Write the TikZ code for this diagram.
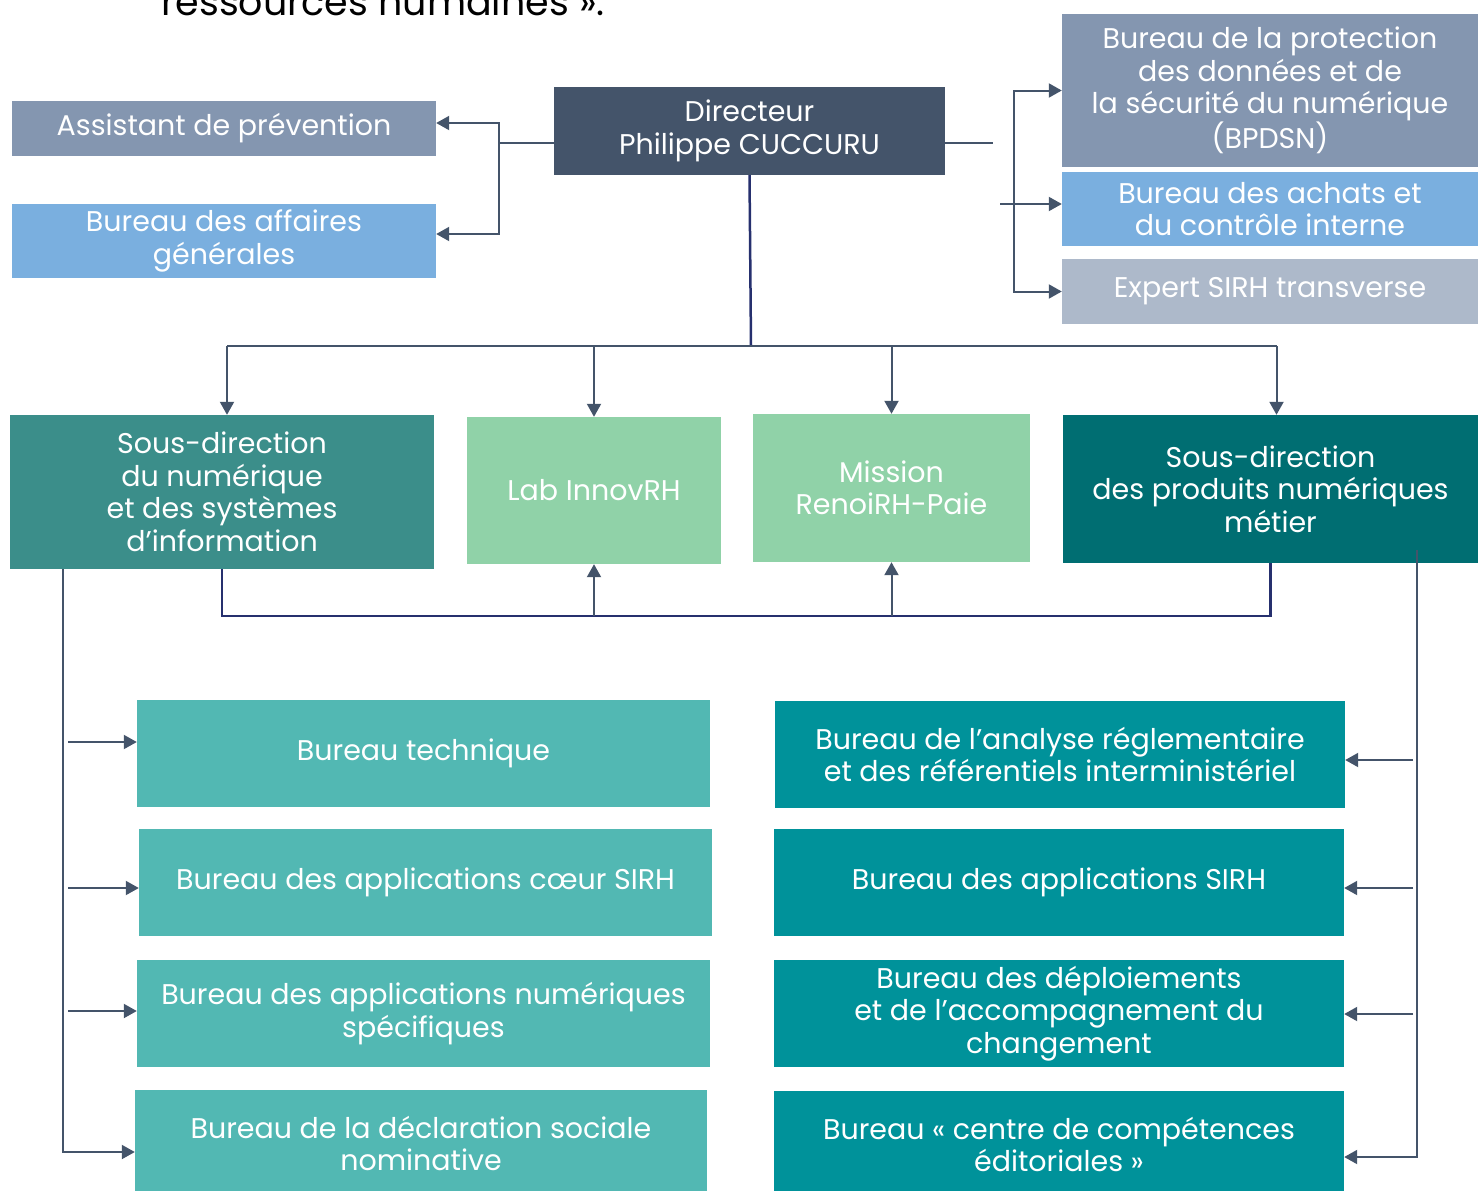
\documentclass[tikz,border=0pt]{standalone}
\usepackage{fontspec}
\setmainfont{Poppins}
\usetikzlibrary{arrows.meta}
\definecolor{slateblue}{RGB}{68,84,106}
\definecolor{greyblue}{RGB}{132,150,176}
\definecolor{skyblue}{RGB}{122,175,223}
\definecolor{paleblue}{RGB}{173,185,202}
\definecolor{tealdark}{RGB}{59,142,138}
\definecolor{mint}{RGB}{144,210,168}
\definecolor{petrol}{RGB}{0,110,114}
\definecolor{aqua}{RGB}{82,184,179}
\definecolor{cyanteal}{RGB}{0,146,154}
\definecolor{navyline}{RGB}{38,48,110}
\newcommand{\boxfont}{\fontsize{28.5}{32.5}\selectfont}
\tikzset{
  box/.style={fill=#1, text=white, align=center, inner sep=0pt, font=\boxfont},
  link/.style={draw=slateblue, line width=2},
  arrow/.style={link, -{Triangle[length=13,width=14]}},
  navylink/.style={draw=navyline, line width=2.5}
}
\begin{document}
\begin{tikzpicture}[x=1pt,y=-1pt]
        \useasboundingbox (0,0) rectangle (1478,1191);
        \node[anchor=base west, font=\fontsize{38}{46}\selectfont] (title) at (158,15) {ressources humaines ».};

        \node[box=slateblue, minimum width=391, minimum height=88] (dir) at (749.5,131) {Directeur\\Philippe CUCCURU};
        \node[box=greyblue, minimum width=424, minimum height=55] (asst) at (224,128.5) {Assistant de prévention};
        \node[box=skyblue, minimum width=424, minimum height=74] (bag) at (224,241) {Bureau des affaires\\générales};
        \node[box=greyblue, minimum width=416, minimum height=153] (bpdsn) at (1270,90.5) {Bureau de la protection\\des données et de\\la sécurité du numérique\\(BPDSN)};
        \node[box=skyblue, minimum width=416, minimum height=74] (bachats) at (1270,209) {Bureau des achats et\\du contrôle interne};
        \node[box=paleblue, minimum width=416, minimum height=65] (expert) at (1270,291.5) {Expert SIRH transverse};

        \node[box=tealdark, minimum width=424, minimum height=154] (sdnsi) at (222,492) {Sous-direction\\du numérique\\et des systèmes\\d’information};
        \node[box=mint, minimum width=254, minimum height=147] (lab) at (594,490.5) {Lab InnovRH};
        \node[box=mint, minimum width=277, minimum height=148] (mission) at (891.5,488) {Mission\\RenoiRH-Paie};
        \node[box=petrol, minimum width=415, minimum height=148] (sdpnm) at (1270.5,489) {Sous-direction\\des produits numériques\\métier};

        \node[box=aqua, minimum width=573, minimum height=107] (btech) at (423.5,753.5) {Bureau technique};
        \node[box=aqua, minimum width=573, minimum height=107] (bcoeur) at (425.5,882.5) {Bureau des applications cœur SIRH};
        \node[box=aqua, minimum width=573, minimum height=107] (bans) at (423.5,1013.5) {Bureau des applications numériques\\spécifiques};
        \node[box=aqua, minimum width=572, minimum height=107] (bdsn) at (421,1143.5) {Bureau de la déclaration sociale\\nominative};

        \node[box=cyanteal, minimum width=570, minimum height=107] (bar) at (1060,754.5) {Bureau de l’analyse réglementaire\\et des référentiels interministériel};
        \node[box=cyanteal, minimum width=570, minimum height=107] (bas) at (1059,882.5) {Bureau des applications SIRH};
        \node[box=cyanteal, minimum width=570, minimum height=107] (bdac) at (1059,1013.5) {Bureau des déploiements\\et de l’accompagnement du\\changement};
        \node[box=cyanteal, minimum width=570, minimum height=107] (bcce) at (1059,1144.5) {Bureau « centre de compétences\\éditoriales »};

        \coordinate (lj) at (499,143);
        \coordinate (rj) at (993,143);
        \coordinate (rb) at (1014,204);
        \coordinate (tbus) at (751,346);
        \coordinate (bbus) at (751,616);
        \coordinate (lv) at (63,569);
        \coordinate (rv) at (1417,550);

        \draw[link] ([yshift=-12]dir.west) -- (lj);
        \draw[arrow] (lj) |- ([yshift=5.5]asst.east);
        \draw[arrow] (lj) |- ([yshift=7]bag.east);

        \draw[link] ([yshift=-12]dir.east) -- (rj);
        \draw[arrow] (rb) |- (bpdsn.west);
        \draw[arrow] (rb) |- (expert.west);
        \draw[arrow] ([xshift=-14]rb) -- ([yshift=5]bachats.west);

        \draw[navylink] (dir.south) -- (tbus);
        \draw[link] ([xshift=5]sdnsi.north |- tbus) -- ([xshift=6]sdpnm.north |- tbus);
        \draw[arrow] ([xshift=5]sdnsi.north |- tbus) -- ([xshift=5]sdnsi.north);
        \draw[arrow] ([xshift=6]sdpnm.north |- tbus) -- ([xshift=6]sdpnm.north);
        \foreach \n in {lab,mission}
          \draw[arrow] (\n.north |- tbus) -- (\n.north);

        \draw[navylink] (sdnsi.south) |- (sdpnm.south |- bbus) -- (sdpnm.south);
        \foreach \n in {lab,mission}
          \draw[arrow] (\n.south |- bbus) -- (\n.south);

        \draw[arrow] (lv) |- ([yshift=-8.5]bdsn.west);
        \foreach \n/\s in {btech/11.5,bcoeur/-5.5,bans/2.5}
          \draw[arrow] ([xshift=5,yshift=\s]\n.west -| lv) -- ([yshift=\s]\n.west);

        \draw[arrow] (rv) |- ([yshift=-12.5]bcce.east);
        \foreach \n/\s in {bar/-5.5,bas/-5.5,bdac/-0.5}
          \draw[arrow] ([xshift=-4,yshift=\s]\n.east -| rv) -- ([yshift=\s]\n.east);
    \end{tikzpicture}
\end{document}
